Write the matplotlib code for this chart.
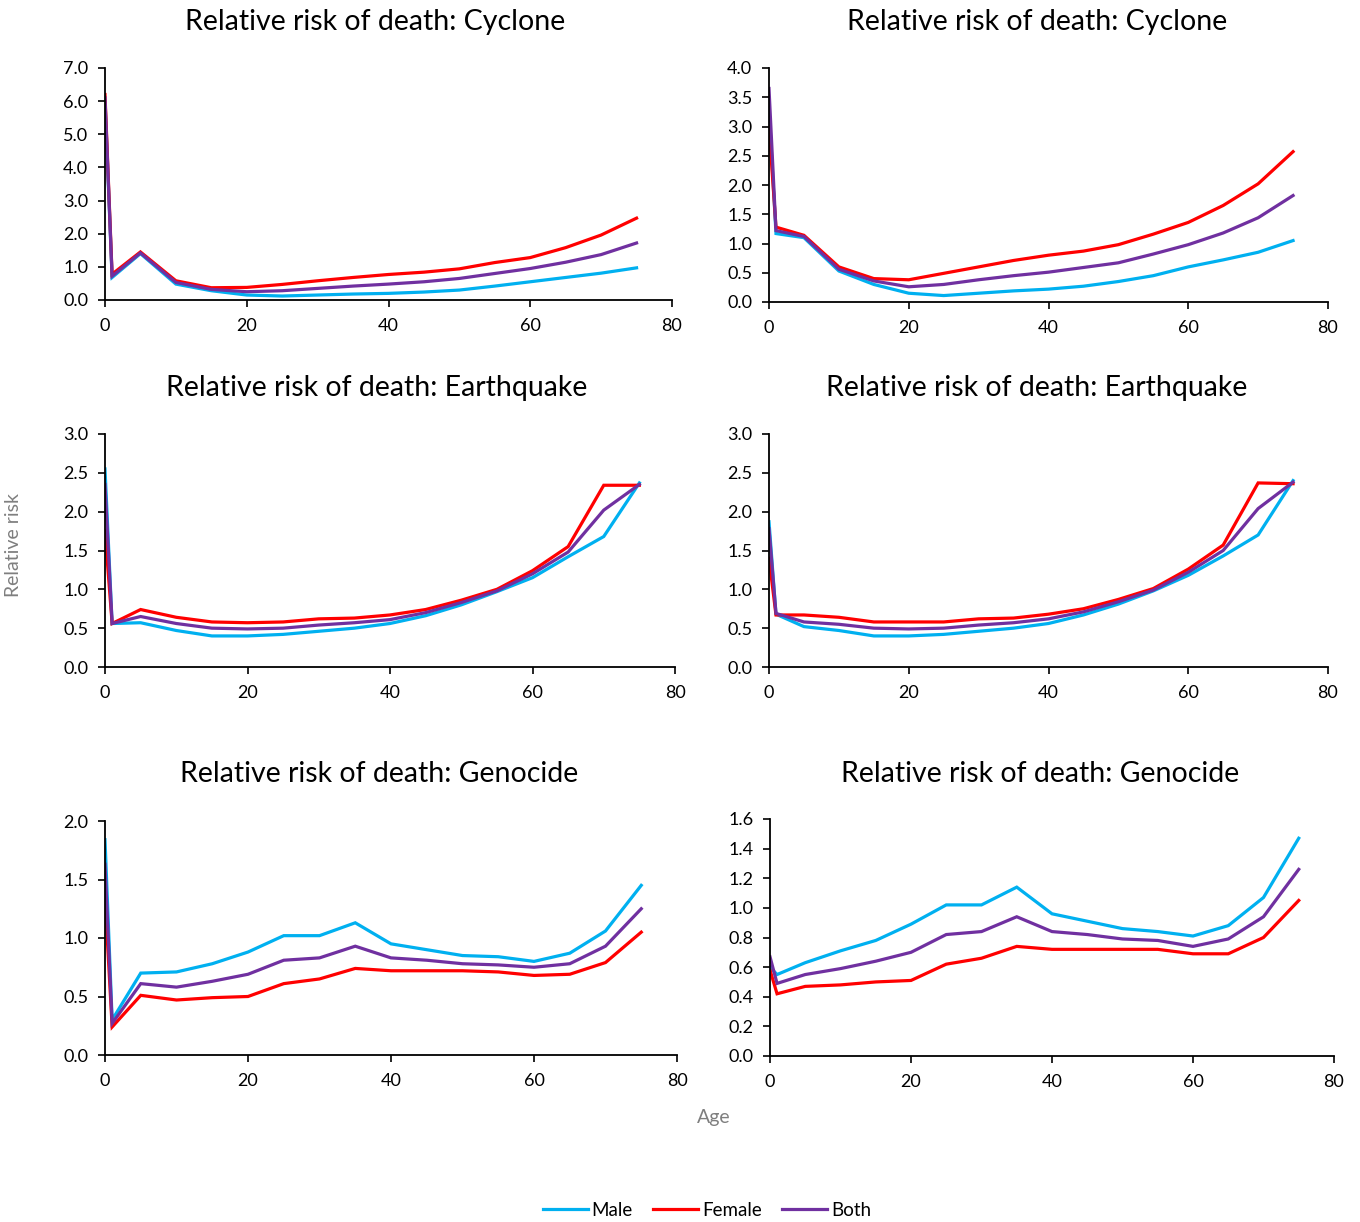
import matplotlib
matplotlib.use("Agg")
import matplotlib.pyplot as plt
from matplotlib.lines import Line2D

plt.rcParams['font.family'] = ['Lato', 'DejaVu Sans']

ages = [0, 1, 5, 10, 15, 20, 25, 30, 35, 40, 45, 50, 55, 60, 65, 70, 75]

# Cyclone (left)
cyc_l_male = [6.0, 0.68, 1.40, 0.48, 0.28, 0.15, 0.12, 0.15, 0.18, 0.20, 0.24, 0.30, 0.42, 0.55, 0.68, 0.81, 0.97]
cyc_l_female = [6.2, 0.78, 1.45, 0.58, 0.37, 0.38, 0.47, 0.58, 0.68, 0.77, 0.84, 0.94, 1.13, 1.28, 1.58, 1.96, 2.47]
cyc_l_both = [6.1, 0.72, 1.42, 0.53, 0.32, 0.25, 0.28, 0.35, 0.42, 0.48, 0.55, 0.65, 0.80, 0.95, 1.14, 1.37, 1.72]

# Cyclone (right)
cyc_r_male = [3.3, 1.17, 1.10, 0.53, 0.30, 0.15, 0.11, 0.15, 0.19, 0.22, 0.27, 0.35, 0.45, 0.60, 0.72, 0.85, 1.05]
cyc_r_female = [3.0, 1.28, 1.14, 0.60, 0.40, 0.38, 0.49, 0.60, 0.71, 0.80, 0.87, 0.98, 1.16, 1.36, 1.65, 2.02, 2.57]
cyc_r_both = [3.65, 1.22, 1.12, 0.56, 0.36, 0.26, 0.30, 0.38, 0.45, 0.51, 0.59, 0.67, 0.82, 0.98, 1.18, 1.44, 1.82]

# Earthquake (left)
eq_l_male = [2.55, 0.56, 0.57, 0.47, 0.40, 0.40, 0.42, 0.46, 0.50, 0.56, 0.66, 0.80, 0.97, 1.15, 1.42, 1.68, 2.37]
eq_l_female = [1.75, 0.56, 0.74, 0.64, 0.58, 0.57, 0.58, 0.62, 0.63, 0.67, 0.74, 0.86, 1.00, 1.24, 1.55, 2.34, 2.34]
eq_l_both = [2.35, 0.56, 0.65, 0.56, 0.50, 0.49, 0.50, 0.54, 0.57, 0.61, 0.70, 0.83, 0.98, 1.20, 1.48, 2.02, 2.35]

# Earthquake (right)
eq_r_male = [1.87, 0.68, 0.52, 0.47, 0.40, 0.40, 0.42, 0.46, 0.50, 0.56, 0.67, 0.81, 0.98, 1.18, 1.43, 1.70, 2.40]
eq_r_female = [1.40, 0.67, 0.67, 0.64, 0.58, 0.58, 0.58, 0.62, 0.63, 0.68, 0.75, 0.87, 1.01, 1.26, 1.57, 2.37, 2.36]
eq_r_both = [1.78, 0.69, 0.58, 0.55, 0.50, 0.49, 0.50, 0.54, 0.57, 0.62, 0.71, 0.84, 0.99, 1.22, 1.50, 2.04, 2.38]

# Genocide (left)
gen_l_male = [1.84, 0.30, 0.70, 0.71, 0.78, 0.88, 1.02, 1.02, 1.13, 0.95, 0.90, 0.85, 0.84, 0.80, 0.87, 1.06, 1.45]
gen_l_female = [1.35, 0.24, 0.51, 0.47, 0.49, 0.50, 0.61, 0.65, 0.74, 0.72, 0.72, 0.72, 0.71, 0.68, 0.69, 0.79, 1.05]
gen_l_both = [1.63, 0.27, 0.61, 0.58, 0.63, 0.69, 0.81, 0.83, 0.93, 0.83, 0.81, 0.78, 0.77, 0.75, 0.78, 0.93, 1.25]

# Genocide (right)
gen_r_male = [0.60, 0.55, 0.63, 0.71, 0.78, 0.89, 1.02, 1.02, 1.14, 0.96, 0.91, 0.86, 0.84, 0.81, 0.88, 1.07, 1.47]
gen_r_female = [0.58, 0.42, 0.47, 0.48, 0.50, 0.51, 0.62, 0.66, 0.74, 0.72, 0.72, 0.72, 0.72, 0.69, 0.69, 0.80, 1.05]
gen_r_both = [0.67, 0.49, 0.55, 0.59, 0.64, 0.70, 0.82, 0.84, 0.94, 0.84, 0.82, 0.79, 0.78, 0.74, 0.79, 0.94, 1.26]

titles = ["Relative risk of death: Cyclone", "Relative risk of death: Cyclone",
          "Relative risk of death: Earthquake", "Relative risk of death: Earthquake",
          "Relative risk of death: Genocide", "Relative risk of death: Genocide"]
series = [(cyc_l_male, cyc_l_female, cyc_l_both), (cyc_r_male, cyc_r_female, cyc_r_both),
          (eq_l_male, eq_l_female, eq_l_both), (eq_r_male, eq_r_female, eq_r_both),
          (gen_l_male, gen_l_female, gen_l_both), (gen_r_male, gen_r_female, gen_r_both)]
ylims = [(7.0, 1.0), (4.0, 0.5), (3.0, 0.5), (3.0, 0.5), (2.0, 0.5), (1.6, 0.2)]

colors = ["#00B0F0", "#FF0000", "#7030A0"]
names = ["Male", "Female", "Both"]

W, H = 1360, 1222
# axes boxes in pixels: left, right, top, bottom
boxes = [(105, 672, 68, 300), (769, 1328, 68, 302),
         (105, 675, 434, 667), (769, 1328, 434, 667),
         (105, 677, 821, 1055), (770, 1334, 819, 1056)]
title_y = [22, 22, 388, 388, 774, 774]
title_x = [375, 1037, 377, 1037, 379, 1040]

fig = plt.figure(figsize=(W / 100, H / 100), dpi=100)

for i in range(6):
    l, r, t, b = boxes[i]
    ax = fig.add_axes([l / W, 1 - b / H, (r - l) / W, (b - t) / H])
    m, f, bo = series[i]
    for vals, c in zip((m, f, bo), colors):
        ax.plot(ages, vals, color=c, lw=2.3, solid_joinstyle='miter')
    ymax, step = ylims[i]
    ax.set_xlim(0, 80)
    ax.set_ylim(0, ymax)
    n = int(round(ymax / step))
    yt = [k * step for k in range(n + 1)]
    ax.set_yticks(yt)
    ax.set_yticklabels([f"{v:.1f}" for v in yt])
    ax.set_xticks([0, 20, 40, 60, 80])
    for s in ("top", "right"):
        ax.spines[s].set_visible(False)
    for s in ("left", "bottom"):
        ax.spines[s].set_color("black")
        ax.spines[s].set_linewidth(1.3)
    ax.tick_params(axis="both", direction="out", length=5, width=1.2,
                   labelsize=13, colors="black")
    ax.tick_params(axis="x", pad=8)
    ax.tick_params(axis="y", pad=7)
    ax.patch.set_alpha(0)
    fig.text(title_x[i] / W, 1 - title_y[i] / H, titles[i], ha="center", va="center",
             fontsize=20.5)

fig.text(14 / W, 1 - 545 / H, "Relative risk", rotation=90, ha="center", va="center",
         fontsize=14, color="#7F7F7F")
fig.text(714 / W, 1 - 1118 / H, "Age", ha="center", va="center",
         fontsize=14, color="#7F7F7F")

handles = [Line2D([0], [0], color=c, lw=2.3) for c in colors]
fig.legend(handles, names, loc="center", bbox_to_anchor=(707 / W, 1 - 1210 / H),
           ncol=3, frameon=False, fontsize=13.5, handlelength=2.4, handletextpad=0.2,
           columnspacing=1.1)

fig.savefig("out.png", dpi=100)
